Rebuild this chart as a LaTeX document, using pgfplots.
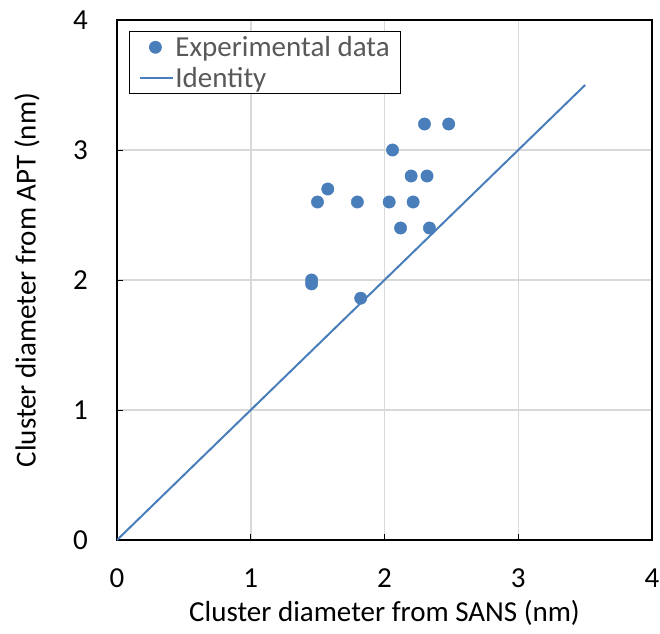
\documentclass[border=0pt]{standalone}
\usepackage{pgfplots}
\pgfplotsset{compat=1.18}
\usepackage{fontspec}
\setmainfont{Carlito}

\definecolor{serieblue}{HTML}{4A7EBB}
\definecolor{gridgray}{HTML}{D9D9D9}
\definecolor{legendtext}{HTML}{595959}
\newcommand\chartfont{\fontsize{29}{34}\selectfont}

\begin{document}
\begin{tikzpicture}
\useasboundingbox (-117pt,-93pt) rectangle (543pt,540pt);
\begin{axis}[
  at={(0pt,0pt)}, anchor=south west,
  scale only axis,
  width=535pt, height=520pt,
  xmin=0, xmax=4, ymin=0, ymax=4,
  xtick={0,1,2,3,4}, ytick={0,1,2,3,4},
  /pgf/number format/assume math mode=true,
  tick label style={font=\chartfont, text=black},
  xticklabel style={anchor=center, yshift=-38pt},
  yticklabel style={anchor=east, inner sep=0pt, xshift=-29pt},
  tick align=inside,
  xtick pos=bottom, ytick pos=left,
  major tick length=6pt,
  every tick/.style={black, line width=1pt},
  axis line style={black, line width=2pt},
  grid=major,
  major grid style={gridgray, line width=1.5pt},
  xlabel={Cluster diameter from SANS (nm)},
  ylabel={Cluster diameter from APT (nm)},
  label style={font=\chartfont, text=black},
  xlabel style={at={(axis description cs:0.5,-0.1404)}, anchor=center},
  ylabel style={at={(axis description cs:-0.168,0.5)}, anchor=center},
  legend style={
    at={(axis cs:0.09,3.915)}, anchor=north west,
    draw=black, line width=0.8pt, fill=white,
    font=\chartfont, text=legendtext,
    inner xsep=10pt, inner ysep=4pt,
    row sep=7pt,
    nodes={inner sep=1pt},
  },
  legend cell align=left,
]
\addplot[only marks, mark=*, mark size=6.2pt, color=serieblue,
  legend image code/.code={\fill[serieblue] (15pt,0pt) circle (6pt);}]
  coordinates {
    (1.455,2.00) (1.455,1.97) (1.822,1.86) (1.499,2.60) (1.576,2.70)
    (1.797,2.60) (2.035,2.60) (2.214,2.60) (2.060,3.00) (2.120,2.40)
    (2.336,2.40) (2.199,2.80) (2.318,2.80) (2.299,3.20) (2.480,3.20)
  };
\addlegendentry{Experimental data}
\addplot[serieblue, line width=2pt,
  legend image code/.code={\draw[serieblue, line width=2pt] (0pt,0pt) -- (33pt,0pt);}]
  coordinates {(0,0) (3.5,3.5)};
\addlegendentry{Identity}
\end{axis}
\end{tikzpicture}
\end{document}
